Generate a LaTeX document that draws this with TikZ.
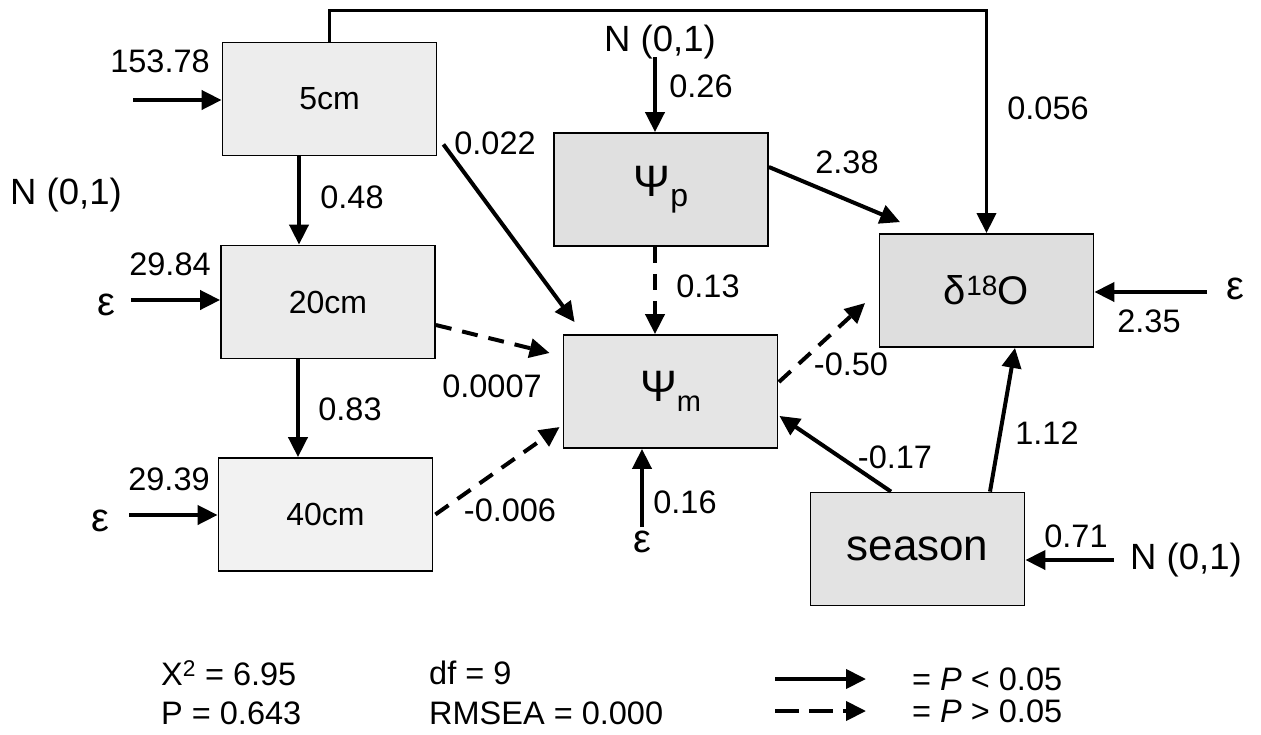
\documentclass[tikz,border=0pt]{standalone}
\usepackage{fontspec}
\setmainfont{Liberation Sans}
\usetikzlibrary{arrows.meta,calc}
\definecolor{c5}{gray}{0.93}
\definecolor{c20}{gray}{0.92}
\definecolor{c40}{gray}{0.95}
\definecolor{cpp}{gray}{0.88}
\definecolor{cpm}{gray}{0.90}
\definecolor{cd}{gray}{0.87}
\definecolor{cs}{gray}{0.89}
\begin{document}
\begin{tikzpicture}[x=1pt,y=-1pt,
  box/.style={draw=black,line width=1.8pt,minimum width=214pt,minimum height=113pt,inner sep=0pt,font=\fontsize{32}{38}\selectfont},
  lbl/.style={inner sep=0pt,font=\fontsize{32.5}{38}\selectfont},
  nlbl/.style={inner sep=0pt,font=\fontsize{36.5}{42}\selectfont},
  eps/.style={inner sep=0pt,font=\fontsize{40}{48}\selectfont},
  arr/.style={line width=4pt,-{Triangle[length=20pt,width=19pt]}},
  darr/.style={arr,dash pattern=on 16pt off 11pt},
]
\useasboundingbox (0,0) rectangle (1261,734);

% boxes
\node[box,fill=c5]  (n5)  at (329.5,99) {5cm};
\node[box,fill=c20] (n20) at (328,302) {20cm};
\node[box,fill=c40] (n40) at (325.5,514.5) {40cm};
\node[box,fill=cpp] (psip) at (661,189.5) {{\fontsize{44}{50}\selectfont Ψ}\raisebox{-10pt}{p}};
\node[box,fill=cpm] (psim) at (670.5,391.5) {{\fontsize{44}{50}\selectfont Ψ}\raisebox{-10pt}{\fontsize{29}{36}\selectfont m}};
\node[box,fill=cd,font=\fontsize{40}{48}\selectfont] (d18) at (986.5,290.5) {δ\textsuperscript{18}O};
\node[box,fill=cs,font=\fontsize{44}{52}\selectfont] (season) at (917.5,549) {\raisebox{-3pt}{season}};

% labels
\node[lbl] (l153) at (160,61) {153.78};
\node[nlbl] (nl) at (66,195) {N (0,1)};
\node[lbl] (l048) at (352,197) {0.48};
\node[lbl] (l2984) at (170,264) {29.84};
\node[eps] (e20) at (106,305) {ε};
\node[lbl] (l083) at (350,409) {0.83};
\node[lbl] (l2939) at (169,479) {29.39};
\node[eps] (e40) at (100,521) {ε};
\node[lbl] (l022) at (495,143) {0.022};
\node[lbl] (l0007) at (492,386) {0.0007};
\node[lbl] (l006) at (510,510) {-0.006};
\node[nlbl] (nt) at (660,42) {N (0,1)};
\node[lbl] (l026) at (701,86) {0.26};
\node[lbl] (l013) at (708,286) {0.13};
\node[lbl] (l016) at (685,502) {0.16};
\node[eps] (em) at (642,542) {ε};
\node[lbl] (l238) at (847,162) {2.38};
\node[lbl] (l056) at (1048,108) {0.056};
\node[eps] (ed) at (1235,289) {ε};
\node[lbl] (l235) at (1149,321) {2.35};
\node[lbl] (l050) at (851,364) {-0.50};
\node[lbl] (l017) at (895,457) {-0.17};
\node[lbl] (l112) at (1047,433) {1.12};
\node[lbl] (l071) at (1076,536) {0.71};
\node[nlbl] (nr) at (1186,560) {N (0,1)};

% free ends
\coordinate (in5) at (133,100);
\coordinate (in20) at (131,300);
\coordinate (in40) at (129,515);
\coordinate (inp) at (655,57);
\coordinate (ind) at (1207,292);
\coordinate (ins) at (1114,560);
\coordinate (inm) at (642,527);

% connectors
\draw[line width=3.6pt,-{Triangle[length=20pt,width=19pt]}] (n5.north) -- ++(0,-31) -| (d18.north);
\draw[arr] (in5) -- (in5 -| n5.west);
\draw[arr] (in20) -- (in20 -| n20.west);
\draw[arr] (in40) -- (in40 -| n40.west);
\draw[arr] ([xshift=-30.5pt]n5.south) -- ([xshift=-29pt]n20.north);
\draw[arr] ([xshift=-30pt]n20.south) -- ([xshift=-27.5pt]n40.north);
\draw[arr] ($(n5.south east)+(6,-12)$) -- ($(psim.north west)+(12,-12)$);
\draw[darr] ($(n20.east)+(0,23)$) -- ($(psim.west)+(-13,-38.5)$);
\draw[darr] ($(n40.east)+(2,0)$) -- ($(psim.west)+(-3,35.5)$);
\draw[arr] (inp) -- (inp |- psip.north);
\draw[darr] ([xshift=-6pt]psip.south) -- ([xshift=-15.5pt]psim.north);
\draw[arr] ($(psip.east)+(0,-22.5)$) -- ($(d18.north west)+(21.5,-11)$);
\draw[darr] ($(psim.east)+(0.5,-9.5)$) -- ($(d18.west)+(-13.5,12.5)$);
\draw[arr] (ind) -- (ind -| d18.east);
\draw[arr] ($(season.north)+(-26.5,0)$) -- ($(psim.south east)+(1,-33)$);
\draw[arr] ($(season.north)+(72.5,0)$) -- ($(d18.south)+(28.5,0)$);
\draw[arr] (ins) -- (ins -| season.east);
\draw[arr] (inm) -- (inm |- psim.south);

% legend
\node[lbl,anchor=west] (lx) at (161,673) {X\textsuperscript{2} = 6.95};
\node[lbl,anchor=west] (lp) at (161,713) {P = 0.643};
\node[lbl,anchor=west] (ldf) at (429,673) {df = 9};
\node[lbl,anchor=west] (lr) at (429,713) {RMSEA = 0.000};
\coordinate (la1) at (775,679);
\coordinate (lb1) at (866,679);
\coordinate (la2) at (775,711);
\coordinate (lb2) at (866,711);
\draw[arr] (la1) -- (lb1);
\draw[arr,dash pattern=on 24pt off 10pt] (la2) -- (lb2);
\node[lbl,anchor=west] (ls) at (912,679) {= \textit{P} < 0.05};
\node[lbl,anchor=west] (ln) at (912,711) {= \textit{P} > 0.05};
\end{tikzpicture}
\end{document}
